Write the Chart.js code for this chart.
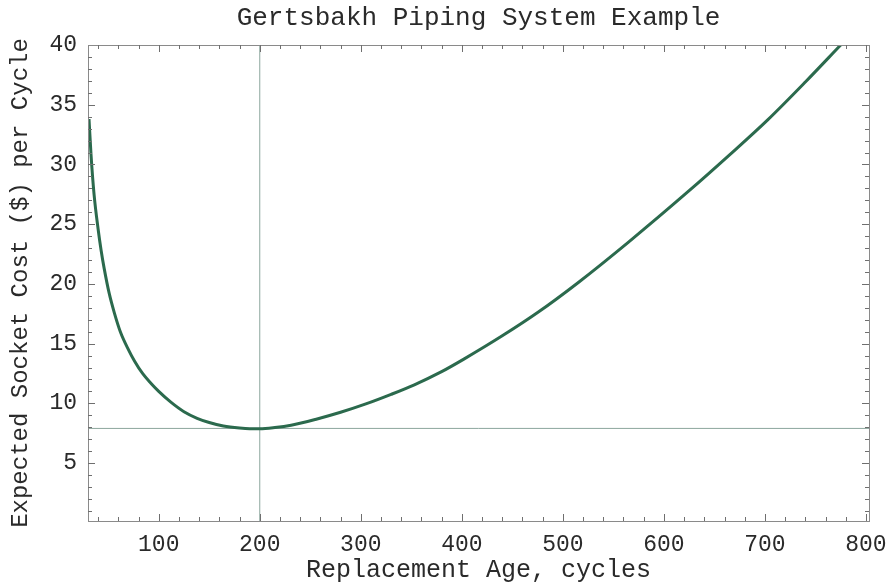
<!DOCTYPE html>
<html>
<head>
<meta charset="utf-8">
<script src="https://cdn.jsdelivr.net/npm/chart.js@4.4.0/dist/chart.umd.min.js"></script>
<style>
  html, body { margin: 0; padding: 0; background: #fff; }
</style>
</head>
<body>
<canvas id="costChart" width="892" height="585"></canvas>
<script>
// replacement age (cycles) vs expected cost per cycle
const ages = [31, 33, 36, 40, 43, 46, 51, 56, 62, 70, 76, 84, 92, 100, 112, 125, 138, 150, 164, 180, 190, 200, 215, 231, 255, 280, 305, 330, 353, 380, 402, 440, 475, 515, 565, 625, 665, 703, 740, 775];
const costs = [33.8, 30.8, 27.5, 24.6, 22.8, 21.3, 19.2, 17.6, 16.0, 14.5, 13.55, 12.5, 11.7, 11.0, 10.1, 9.3, 8.75, 8.4, 8.1, 7.93, 7.88, 7.88, 7.98, 8.17, 8.65, 9.25, 9.95, 10.75, 11.55, 12.65, 13.7, 15.65, 17.6, 20.1, 23.5, 27.8, 30.8, 33.75, 36.9, 40.0];

// optimum marked by the cross-hair lines
const optimalAge = 200;
const minCost = 7.9;

const xRange = [30, 803];
const yRange = [0.15, 40];
const xTicks = [100, 200, 300, 400, 500, 600, 700, 800];
const yTicks = [5, 10, 15, 20, 25, 30, 35, 40];
const xMinorStep = 20;
const yMinorStep = 1;

const MONO = "'Liberation Mono', 'Courier New', monospace";
const textColor = "#2a2a2a";
const lineColor = "#2b6a4d";
const guideColor = "rgba(120,150,140,0.85)";

// frame box with inward ticks on all four sides
const frameTicks = {
  id: "frameTicks",
  afterDatasetsDraw(chart) {
    const { ctx, chartArea: a, scales } = chart;
    const xs = scales.x, ys = scales.y;
    ctx.save();
    ctx.strokeStyle = "#8a8a8a";
    ctx.lineWidth = 1;
    ctx.strokeRect(a.left + 0.5, a.top + 0.5, a.right - a.left, a.bottom - a.top);
    ctx.strokeStyle = "#6f6f6f";
    ctx.beginPath();
    for (let v = 40; v <= 800; v += xMinorStep) {
      const px = Math.round(xs.getPixelForValue(v)) + 0.5;
      if (px <= a.left + 1 || px >= a.right - 1) continue;
      const len = xTicks.includes(v) ? 7 : 4;
      ctx.moveTo(px, a.bottom); ctx.lineTo(px, a.bottom - len);
      ctx.moveTo(px, a.top); ctx.lineTo(px, a.top + len);
    }
    for (let v = 1; v <= 40; v += yMinorStep) {
      const py = Math.round(ys.getPixelForValue(v)) + 0.5;
      if (py <= a.top + 1 || py >= a.bottom - 1) continue;
      const len = yTicks.includes(v) ? 7 : 4;
      ctx.moveTo(a.left, py); ctx.lineTo(a.left + len, py);
      ctx.moveTo(a.right, py); ctx.lineTo(a.right - len, py);
    }
    ctx.stroke();
    ctx.restore();
  }
};

const ctx = document.getElementById("costChart");
new Chart(ctx, {
  type: "line",
  data: {
    datasets: [
      {
        label: "Expected cost",
        data: ages.map((a, i) => ({ x: a, y: costs[i] })),
        borderColor: lineColor,
        borderWidth: 3,
        pointRadius: 0,
        cubicInterpolationMode: "monotone",
      },
      {
        label: "Optimal age",
        data: [{ x: optimalAge, y: yRange[0] }, { x: optimalAge, y: yRange[1] }],
        borderColor: guideColor,
        borderWidth: 1,
        pointRadius: 0,
      },
      {
        label: "Minimum cost",
        data: [{ x: xRange[0], y: minCost }, { x: xRange[1], y: minCost }],
        borderColor: guideColor,
        borderWidth: 1,
        pointRadius: 0,
      },
    ],
  },
  options: {
    responsive: false,
    animation: false,
    devicePixelRatio: 1,
    layout: { padding: { left: 0, right: 23, top: 0, bottom: 0 } },
    plugins: {
      legend: { display: false },
      tooltip: { enabled: false },
      title: {
        display: true,
        text: "Gertsbakh Piping System Example",
        fullSize: false,
        color: textColor,
        font: { family: MONO, size: 26, weight: "normal", lineHeight: 1.2 },
        padding: { top: 3, bottom: 10.8 },
      },
    },
    scales: {
      x: {
        type: "linear",
        min: xRange[0],
        max: xRange[1],
        grid: { display: false, drawTicks: false },
        border: { display: false },
        afterBuildTicks: (s) => { s.ticks = xTicks.map((v) => ({ value: v })); },
        afterFit: (s) => { s.height = 64; s.paddingLeft = 0; s.paddingRight = 0; },
        ticks: {
          color: textColor,
          padding: 10,
          maxRotation: 0,
          font: { family: MONO, size: 23 },
        },
        title: {
          display: true,
          text: "Replacement Age, cycles",
          color: textColor,
          font: { family: MONO, size: 25 },
          padding: { top: 0, bottom: 0 },
        },
      },
      y: {
        type: "linear",
        min: yRange[0],
        max: yRange[1],
        grid: { display: false, drawTicks: false },
        border: { display: false },
        afterBuildTicks: (s) => { s.ticks = yTicks.map((v) => ({ value: v })); },
        afterFit: (s) => { s.width = 88; s.paddingTop = 0; s.paddingBottom = 0; },
        ticks: {
          color: textColor,
          padding: 11,
          font: { family: MONO, size: 23 },
        },
        title: {
          display: true,
          text: "Expected Socket Cost ($) per Cycle",
          color: textColor,
          font: { family: MONO, size: 24 },
          padding: { top: 6, bottom: 0 },
        },
      },
    },
  },
  plugins: [frameTicks],
});
</script>
</body>
</html>
